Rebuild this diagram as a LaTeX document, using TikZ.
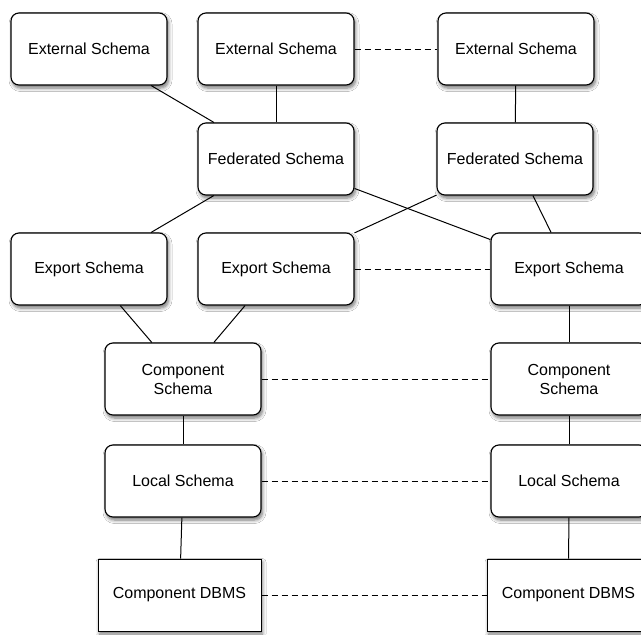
\documentclass[tikz,border=0pt]{standalone}
\usepackage{fontspec}
\setmainfont{Liberation Sans}
\usetikzlibrary{shadows.blur}
\tikzset{
  schema/.style={draw=black, line width=1.1pt, fill=white, rounded corners=8pt,
    minimum width=156pt, minimum height=72pt, align=center, inner sep=0pt,
    font=\fontsize{16}{19}\selectfont,
    blur shadow={shadow xshift=1.5pt, shadow yshift=-3pt, shadow blur radius=3.5pt,
      shadow opacity=55, shadow blur steps=6}},
  dbms/.style={schema, rounded corners=0pt, line width=1pt, minimum width=163pt},
  link/.style={draw=black, line width=1pt},
  peer/.style={link, dash pattern=on 6pt off 4pt},
}
\begin{document}
\begin{tikzpicture}[x=1pt, y=-1pt]
\useasboundingbox (0,0) rectangle (641,635);
\clip (0,0) rectangle (641,635);
\fill[white] (0,0) rectangle (641,635);

% external layer
\node[schema] (ext1) at (89,49)  {External Schema};
\node[schema] (ext2) at (276,49) {External Schema};
\node[schema] (ext3) at (516,49) {External Schema};

% federated layer
\node[schema] (fed1) at (276,159) {Federated Schema};
\node[schema] (fed2) at (515,159) {Federated Schema};

% export layer
\node[schema] (exp1) at (89,269)  {Export Schema};
\node[schema] (exp2) at (276,269) {Export Schema};
\node[schema] (exp3) at (569,269) {Export Schema};

% component layer
\node[schema] (comp1) at (183,379) {Component\\Schema};
\node[schema] (comp3) at (569,379) {Component\\Schema};

% local layer
\node[schema] (loc1) at (183,481) {Local Schema};
\node[schema] (loc3) at (569,481) {Local Schema};

% DBMS layer
\node[dbms] (db1) at (179.5,595) {Component DBMS};
\node[dbms] (db3) at (568.5,595) {Component DBMS};

% mappings between layers
\draw[link] (ext1) -- (fed1);
\draw[link] (ext2) -- (fed1);
\draw[link] (ext3) -- (fed2);
\draw[link] (fed1) -- (exp1);
\draw[link] (fed1) -- (exp3);
\draw[link] (fed2) -- (exp2);
\draw[link] (fed2) -- (exp3);
\draw[link] (exp1) -- (comp1);
\draw[link] (exp2) -- (comp1);
\draw[link] (exp3) -- (comp3);
\draw[link] (comp1) -- (loc1);
\draw[link] (comp3) -- (loc3);
\draw[link] (loc1) -- (db1);
\draw[link] (loc3) -- (db3);

% correspondences between sites
\draw[peer] (ext2) -- (ext3);
\draw[peer] (exp2) -- (exp3);
\draw[peer] (comp1) -- (comp3);
\draw[peer] (loc1) -- (loc3);
\draw[peer] (db1) -- (db3);
\end{tikzpicture}
\end{document}
